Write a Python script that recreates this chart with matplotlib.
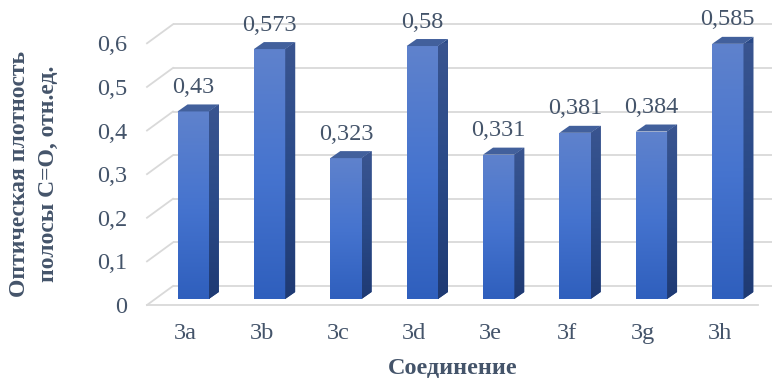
import numpy as np
import matplotlib
matplotlib.use("Agg")
import matplotlib.pyplot as plt
from matplotlib.transforms import ScaledTranslation
from matplotlib.patches import Polygon
from matplotlib.colors import LinearSegmentedColormap

# data
compounds = ["3a", "3b", "3c", "3d", "3e", "3f", "3g", "3h"]
density = [0.43, 0.573, 0.323, 0.58, 0.331, 0.381, 0.384, 0.585]
yticks = [0, 0.1, 0.2, 0.3, 0.4, 0.5, 0.6]

TXT = "#44546a"
GRID = "#d9d9d9"
FS = 17.5
plt.rcParams["font.family"] = ["Liberation Serif", "DejaVu Serif"]

fig = plt.figure(figsize=(7.72, 3.80), dpi=100)
W, H = 772, 380
# front plane of the 3d box, in pixels
x_left, x_right, y_zero, y_top = 147, 758, 305, 43.3
ax = fig.add_axes([x_left / W, 1 - y_zero / H, (x_right - x_left) / W, (y_zero - y_top) / H])
ax.set_xlim(-0.5, len(compounds) - 0.5)
ax.set_ylim(0, 0.6)
for s in ax.spines.values():
    s.set_visible(False)

px_x = (x_right - x_left) / len(compounds)   # pixels per category
px_y = (y_zero - y_top) / 0.6                 # pixels per unit


def off(dx, dy):
    # shift by pixels (dpi 100 -> inches)
    return ax.transData + ScaledTranslation(dx / 100, dy / 100, fig.dpi_scale_trans)


# back wall / floor / left wall
back_dx, back_dy = 26, 19
bdx, bdy = back_dx / px_x, back_dy / px_y
for t in yticks:
    ax.plot([-0.5 + bdx, len(compounds) + 1], [t + bdy, t + bdy], color=GRID, lw=1.3,
            clip_on=False, zorder=1, solid_capstyle="butt")
    ax.plot([-0.5, -0.5 + bdx], [t, t + bdy], color=GRID, lw=1.3, clip_on=False, zorder=1)
ax.plot([-0.5, len(compounds) - 0.5], [0, 0], color=GRID, lw=1.3, clip_on=False, zorder=1)

# bars
bar_dx, bar_dy = 8, 6
side_dx, side_dy = 10, 7
sdx, sdy = side_dx / px_x, side_dy / px_y
width = 0.41
btrans = off(bar_dx, bar_dy)
x = np.arange(len(compounds))
bars = ax.bar(x, density, width=width, color="#3e6cc6", transform=btrans, zorder=3,
              clip_on=False)

front_cmap = LinearSegmentedColormap.from_list("front", ["#2f5fbd", "#4674cf", "#5f82cc"])
side_cmap = LinearSegmentedColormap.from_list("side", ["#1f3a73", "#2a4a88", "#3a5590"])
grad = np.linspace(0, 1, 256).reshape(-1, 1)
for xi, v, b in zip(x, density, bars):
    x0, x1 = xi - width / 2, xi + width / 2
    im = ax.imshow(grad, cmap=front_cmap, origin="lower", aspect="auto",
                   extent=(x0, x1, 0, v), transform=btrans, zorder=4, interpolation="bicubic")
    im.set_clip_path(b)
    side = Polygon([(x1, 0), (x1 + sdx, sdy), (x1 + sdx, v + sdy), (x1, v)], closed=True,
                   facecolor="#2a4a88", edgecolor="none", transform=btrans, zorder=3,
                   clip_on=False)
    ax.add_patch(side)
    im2 = ax.imshow(grad, cmap=side_cmap, origin="lower", aspect="auto",
                    extent=(x1, x1 + sdx, 0, v + sdy), transform=btrans, zorder=4,
                    interpolation="bicubic")
    im2.set_clip_path(side)
    top = Polygon([(x0, v), (x1, v), (x1 + sdx, v + sdy), (x0 + sdx, v + sdy)], closed=True,
                  facecolor="#42609c", edgecolor="none", transform=btrans, zorder=5,
                  clip_on=False)
    ax.add_patch(top)
    ax.text(xi, v, str(v).replace(".", ","), transform=off(bar_dx, bar_dy + 24),
            ha="center", va="center", fontsize=FS, color=TXT, zorder=6)

ax.set_xlim(-0.5, len(compounds) - 0.5)
ax.set_ylim(0, 0.6)

ax.set_xticks(x)
ax.set_xticklabels(compounds)
ax.set_yticks(yticks)
ax.set_yticklabels([("%g" % t).replace(".", ",") for t in yticks])
ax.tick_params(axis="both", length=0, labelsize=FS, labelcolor=TXT)
ax.tick_params(axis="x", pad=13)
ax.tick_params(axis="y", pad=14)

ax.set_xlabel("Соединение", fontsize=FS, fontweight="bold", color=TXT, va="center")
ax.xaxis.set_label_coords((453 - x_left) / (x_right - x_left), (y_zero - 369) / (y_zero - y_top))
ax.set_ylabel("Оптическая плотность\nполосы C=O, отн.ед.", fontsize=17, fontweight="bold",
              color=TXT, va="center", ha="center", multialignment="center", linespacing=1.45)
ax.yaxis.set_label_coords((34 - x_left) / (x_right - x_left), (y_zero - 174) / (y_zero - y_top))

fig.savefig("out.png", dpi=100)
